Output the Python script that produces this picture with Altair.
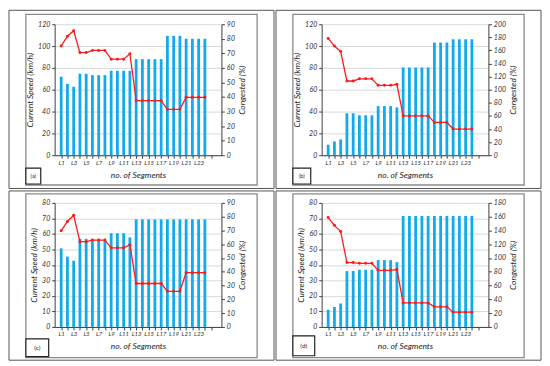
import altair as alt
import pandas as pd

segment_index = list(range(1, 25))
segment_labels = [f"L{i}" for i in segment_index]

speed_a = [100, 109, 114, 94, 94, 96, 96, 96, 88, 88, 88, 93, 50, 50, 50, 50, 50, 42, 42, 42, 53, 53, 53, 53]
congested_a = [54, 49, 47, 56, 56, 55, 55, 55, 58, 58, 58, 58, 66, 66, 66, 66, 66, 82, 82, 82, 80, 80, 80, 80]

speed_b = [107, 100, 95, 68, 68, 70, 70, 70, 64, 64, 64, 65, 36, 36, 36, 36, 36, 30, 30, 30, 24, 24, 24, 24]
congested_b = [16, 21, 24, 64, 64, 61, 61, 61, 75, 75, 75, 73, 134, 134, 134, 134, 134, 172, 172, 172, 177, 177, 177, 177]

speed_c = [62, 68, 72, 55, 55, 56, 56, 56, 51, 51, 51, 53, 28, 28, 28, 28, 28, 23, 23, 23, 35, 35, 35, 35]
congested_c = [57, 51, 48, 64, 64, 63, 63, 63, 68, 68, 68, 65, 78, 78, 78, 78, 78, 78, 78, 78, 78, 78, 78, 78]

speed_d = [70.5, 65.5, 61.5, 41.5, 41.5, 41, 41, 41, 36.5, 36.5, 36.5, 37, 15.5, 15.5, 15.5, 15.5, 15.5, 13, 13, 13, 9.5, 9.5, 9.5, 9.5]
congested_d = [25, 29, 34, 81, 81, 83, 83, 83, 97, 97, 97, 94, 161, 161, 161, 161, 161, 161, 161, 161, 161, 161, 161, 161]

FONT = "Lato"
BLUE = "#0fabec"
RED = "#ff1a1a"
AX = "#404040"
GRID = "#d9d9d9"
TABLE = "#555555"
FRAME = "#8a8a8a"
W = 168


def panel(tag, speed, cong, lmax, lstep, rmax, rstep, H, cell, frame, box, tag_size):
    df = pd.DataFrame({"seg": segment_index, "label": segment_labels,
                       "speed": speed, "cong": cong})
    xscale = alt.Scale(domain=[0.75, 25.85], nice=False, zero=False)
    xaxis = alt.Axis(values=list(range(1, 26)),
                     labelExpr="datum.value % 2 == 1 && datum.value <= 23 ? 'L' + datum.value : ''",
                     title="no. of Segments", grid=False, tickSize=3, labelPadding=1,
                     labelFontSize=6.2, titlePadding=5, labelFlush=False, labelOverlap=False)
    base = alt.Chart(df)
    bars = base.mark_bar(color=BLUE, width=2.8).encode(
        x=alt.X("seg:Q", scale=xscale, axis=xaxis),
        y=alt.Y("cong:Q", scale=alt.Scale(domain=[0, rmax], nice=False),
                axis=alt.Axis(orient="right", values=list(range(0, rmax + 1, rstep)),
                              title="Congested (%)", grid=False, titleAngle=270,
                              titleBaseline="top", titlePadding=3, labelPadding=2)),
    )
    line = base.mark_line(color=RED, strokeWidth=1.3,
                          point=alt.OverlayMarkDef(color=RED, filled=True, size=9)).encode(
        x=alt.X("seg:Q", scale=xscale, axis=xaxis),
        y=alt.Y("speed:Q", scale=alt.Scale(domain=[0, lmax], nice=False),
                axis=alt.Axis(orient="left", values=list(range(0, lmax + 1, lstep)),
                              title="Current Speed (km/h)", grid=True, gridColor=GRID,
                              titlePadding=3, labelPadding=2)),
    )
    one = alt.Chart(pd.DataFrame({"k": [0]}))
    cell_rect = one.mark_rect(fill="transparent", stroke=TABLE, strokeWidth=1).encode(
        x=alt.value(cell[0]), y=alt.value(cell[1]), x2=alt.value(cell[2]), y2=alt.value(cell[3]))
    frame_rect = one.mark_rect(fill="transparent", stroke=FRAME, strokeWidth=1.3).encode(
        x=alt.value(frame[0]), y=alt.value(frame[1]), x2=alt.value(frame[2]), y2=alt.value(frame[3]))
    box_rect = one.mark_rect(fill="white", stroke="#222222", strokeWidth=1.2).encode(
        x=alt.value(box[0]), y=alt.value(box[1]), x2=alt.value(box[2]), y2=alt.value(box[3]))
    box_text = one.mark_text(text=tag, font=FONT, fontSize=tag_size, color="#222222",
                             align="center", baseline="middle").encode(
        x=alt.value((box[0] + box[2]) / 2), y=alt.value((box[1] + box[3]) / 2))
    return alt.layer(cell_rect, frame_rect, bars, line, box_rect, box_text).resolve_scale(
        y="independent").properties(width=W, height=H)


TOP_CELL = (-46, -14, 221, 165.5)
TOP_FRAME = (-29, -10, 204, 162)
BOT_CELL = (-46, -12, 221, 158.5)
BOT_FRAME = (-29, -9, 204, 156)

pa = panel("(a)", speed_a, congested_a, 120, 20, 90, 10, 132, TOP_CELL, TOP_FRAME, (-29, 145, -14, 161), 5.5)
pb = panel("(b)", speed_b, congested_b, 120, 20, 200, 20, 132, TOP_CELL, TOP_FRAME, (-29, 145, -11, 161), 5.5)
pc = panel("(c)", speed_c, congested_c, 80, 10, 90, 10, 125, BOT_CELL, BOT_FRAME, (-29, 137, -6, 155), 6.5)
pd_ = panel("(d)", speed_d, congested_d, 80, 10, 180, 20, 125, BOT_CELL, BOT_FRAME, (-29, 134, -7, 154), 6.5)

chart = alt.vconcat(
    alt.hconcat(pa, pb, spacing=0),
    alt.hconcat(pc, pd_, spacing=0),
    spacing=0,
).properties(padding=0).configure_view(stroke="transparent").configure_axis(
    labelFont=FONT, titleFont=FONT, labelFontStyle="italic", titleFontStyle="italic",
    labelFontSize=7, titleFontSize=8.5, titleFontWeight="normal",
    labelColor="#333333", titleColor="#222222", domainColor=AX, tickColor=AX, tickSize=3,
).configure_concat(spacing=0)

chart.save("out.html", embed_options={"renderer": "svg", "actions": False})
